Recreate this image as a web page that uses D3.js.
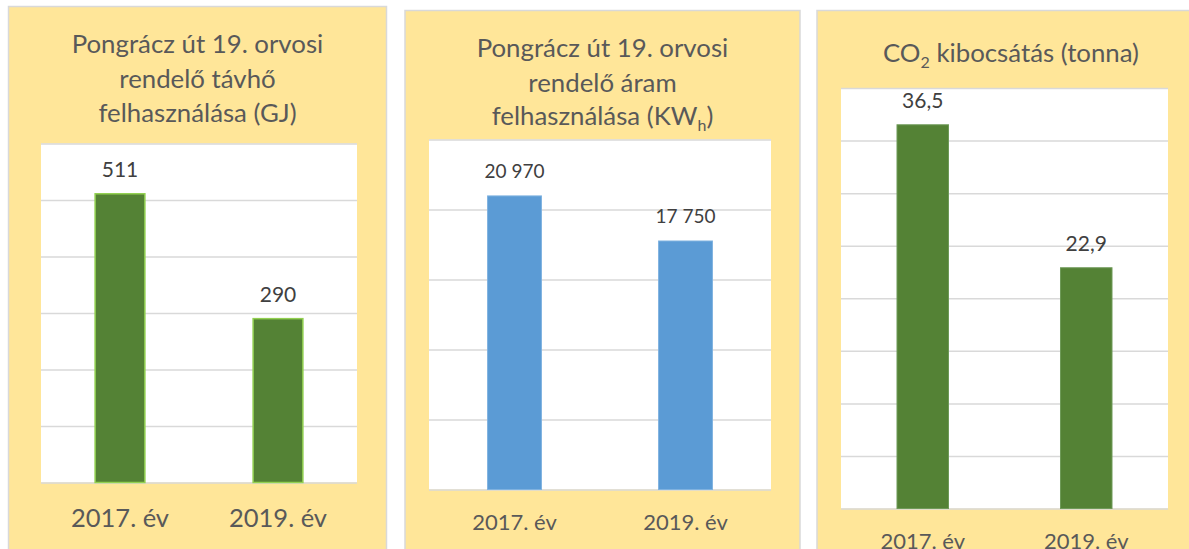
<!DOCTYPE html>
<html>
<head>
<meta charset="utf-8">
<script src="https://cdn.jsdelivr.net/npm/d3@7/dist/d3.min.js"></script>
<style>
  html, body { margin: 0; padding: 0; background: #ffffff; }
  svg { display: block; font-family: Lato, "Open Sans", sans-serif; }
</style>
</head>
<body>
<svg id="chart" width="1189" height="549"></svg>
<script>
// ---- data ----
const categories = ["2017. év", "2019. év"];
const heatValues = [511, 290];
const powerValues = [20970, 17750];
const co2Values = [36.5, 22.9];
const heatTicks = [0, 100, 200, 300, 400, 500, 600];
const powerTicks = [0, 5000, 10000, 15000, 20000, 25000];
const co2Ticks = [0, 5, 10, 15, 20, 25, 30, 35, 40];
const heatTitle = ["Pongrácz út 19. orvosi", "rendelő távhő", "felhasználása (GJ)"];
const powerTitle = ["Pongrácz út 19. orvosi", "rendelő áram", ["felhasználása (KW", "h", ")"]];
const co2Title = [["CO", "2", " kibocsátás (tonna)"]];

const hu = d3.formatLocale({decimal: ",", thousands: "\u00a0", grouping: [3], currency: ["", " Ft"]});

const TEXT = "#595959";
const GRID = "#d9d9d9";
const PANEL_BG = "#ffe699";

const panels = [
  {
    values: heatValues, ticks: heatTicks, title: heatTitle, fmt: hu.format(",d"),
    box: {x: 8.5, y: 6.5, w: 378, h: 560},
    plot: {x0: 41, x1: 357, y0: 143.5, y1: 482.5},
    fill: "#548235", stroke: "#92d050", strokeW: 1.5,
    titleX: 197.5, titleY: [52.5, 87.5, 122], titleSize: 25.8,
    labelSize: 21, labelGap: 17, axisSize: 25.5, axisGap: 44.5
  },
  {
    values: powerValues, ticks: powerTicks, title: powerTitle, fmt: hu.format(",d"),
    box: {x: 405, y: 10.5, w: 395, h: 560},
    plot: {x0: 429, x1: 771, y0: 139.5, y1: 489.5},
    fill: "#5b9bd5", stroke: "#7fb2e0", strokeW: 1,
    titleX: 602.5, titleY: [56.5, 91.5, 125], titleSize: 25.8,
    labelSize: 19, labelGap: 18, axisSize: 22, axisGap: 40
  },
  {
    values: co2Values, ticks: co2Ticks, title: co2Title, fmt: hu.format(",.1f"),
    box: {x: 817, y: 10.5, w: 400, h: 560},
    plot: {x0: 841, x1: 1168, y0: 88, y1: 508.5},
    fill: "#548235", stroke: "#6e9a58", strokeW: 1,
    titleX: 1011, titleY: [62], titleSize: 25.8,
    labelSize: 21, labelGap: 17, axisSize: 22, axisGap: 40
  }
];

const svg = d3.select("#chart");
svg.append("rect").attr("width", 1189).attr("height", 549).attr("fill", "#ffffff");

panels.forEach(p => {
  const g = svg.append("g");
  // panel background
  g.append("rect")
    .attr("x", p.box.x).attr("y", p.box.y)
    .attr("width", p.box.w).attr("height", p.box.h)
    .attr("fill", PANEL_BG).attr("stroke", GRID).attr("stroke-width", 1.5);

  // title
  p.title.forEach((line, i) => {
    const t = g.append("text")
      .attr("x", p.titleX).attr("y", p.titleY[i])
      .attr("text-anchor", "middle")
      .attr("fill", TEXT).attr("font-size", p.titleSize);
    if (Array.isArray(line)) {
      t.append("tspan").text(line[0]);
      t.append("tspan").attr("dy", 6).attr("font-size", p.titleSize * 0.62).text(line[1]);
      t.append("tspan").attr("dy", -6).text(line[2]);
    } else {
      t.text(line);
    }
  });

  const x = d3.scaleBand().domain(categories).range([p.plot.x0, p.plot.x1])
    .paddingInner(0.685).paddingOuter(0.3425);
  const y = d3.scaleLinear().domain([0, d3.max(p.ticks)]).range([p.plot.y1, p.plot.y0]);

  // plot area
  g.append("rect")
    .attr("x", p.plot.x0).attr("y", p.plot.y0)
    .attr("width", p.plot.x1 - p.plot.x0).attr("height", p.plot.y1 - p.plot.y0)
    .attr("fill", "#ffffff");

  // gridlines
  const grid = g.append("g")
    .attr("transform", `translate(${p.plot.x0},0)`)
    .call(d3.axisLeft(y).tickValues(p.ticks).tickSize(-(p.plot.x1 - p.plot.x0)).tickFormat(""));
  grid.select(".domain").remove();
  grid.selectAll(".tick line").attr("stroke", GRID).attr("stroke-width", 1.5);

  // bars
  g.selectAll("rect.bar").data(p.values).join("rect")
    .attr("class", "bar")
    .attr("x", (d, i) => x(categories[i]))
    .attr("y", d => y(d))
    .attr("width", x.bandwidth())
    .attr("height", d => y(0) - y(d))
    .attr("fill", p.fill)
    .attr("stroke", p.stroke).attr("stroke-width", p.strokeW);

  // data labels
  g.selectAll("text.val").data(p.values).join("text")
    .attr("class", "val")
    .attr("x", (d, i) => x(categories[i]) + x.bandwidth() / 2)
    .attr("y", d => y(d) - p.labelGap)
    .attr("text-anchor", "middle")
    .attr("fill", "#404040").attr("font-size", p.labelSize)
    .text(d => p.fmt(d));

  // category axis
  const ax = g.append("g")
    .attr("transform", `translate(0,${p.plot.y1})`)
    .call(d3.axisBottom(x).tickSize(0));
  ax.select(".domain").remove();
  ax.selectAll("text")
    .attr("y", p.axisGap).attr("dy", 0)
    .attr("fill", TEXT).attr("font-size", p.axisSize)
    .attr("font-family", "Lato, 'Open Sans', sans-serif");
});
</script>
</body>
</html>
